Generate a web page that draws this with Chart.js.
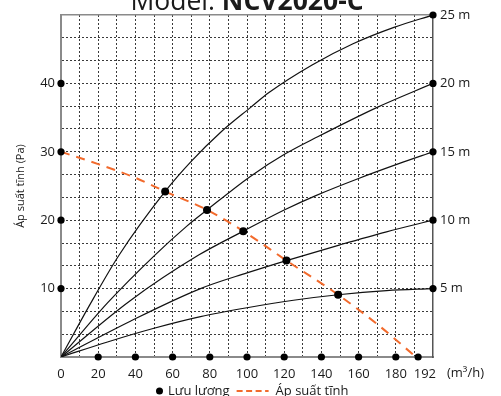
<!DOCTYPE html>
<html>
<head>
<meta charset="utf-8">
<script src="https://cdn.jsdelivr.net/npm/chart.js@4.4.1/dist/chart.umd.min.js"></script>
<style>
  html, body { margin: 0; padding: 0; background: #fff; }
  #wrap { width: 501px; height: 396px; }
</style>
</head>
<body>
<div id="wrap"><canvas id="chart" width="501" height="396"></canvas></div>
<script>
// ---- texts
const TITLE_LABEL = 'Model: ';
const TITLE_MODEL = 'NCV2020-C';
const Y_TITLE = 'Áp suất tĩnh (Pa)';
const X_UNIT = '(m³/h)';
const FLOW_LABEL = 'Lưu lượng';
const PRESSURE_LABEL = 'Áp suất tĩnh';

// ---- axes (x in m3/h, left y in Pa, right y in m)
const xGrid = [0, 10, 20, 30, 40, 50, 60, 70, 80, 90, 100, 110, 120, 130, 140, 150, 160, 170, 180, 190, 192, 200];
const xLabels = [0, 20, 40, 60, 80, 100, 120, 140, 160, 180, 192];
const yLabels = [10, 20, 30, 40];
const headLabels = [5, 10, 15, 20, 25];

// ---- system curves, one per head (Pa scale)
const curve25m = [[0, 0], [15, 7.4], [31, 14.8], [56, 24.2], [70, 28.6], [86, 32.9], [102, 36.5], [112, 38.7], [135, 42.7], [157, 45.8], [179, 48.2], [200, 50]];
const curve20m = [[0, 0], [25, 7.9], [50.5, 14.9], [67.5, 19.1], [78.5, 21.5], [101.8, 26.4], [120.6, 29.7], [138, 32.2], [170, 36.5], [200, 40]];
const curve15m = [[0, 0], [37, 8.2], [74, 14.9], [98, 18.4], [120, 21.5], [137, 23.6], [160, 26.1], [182, 28.3], [200, 30]];
const curve10m = [[0, 0], [37, 5.2], [75, 10.0], [100, 12.3], [121.2, 14.1], [150, 16.4], [175, 18.3], [200, 20]];
const curve5m = [[0, 0], [25, 2.2], [50, 4.2], [75, 5.9], [100, 7.2], [125, 8.3], [149, 9.1], [175, 9.7], [200, 10]];

// ---- static pressure line and operating points
const pressureCurve = [[0, 30], [20, 28.2], [40, 26.2], [56, 24.2], [78.5, 21.5], [98, 18.4], [121.2, 14.1], [149, 9.1], [170, 4.8], [190, 0.2]];
const flowPoints = [[56, 24.2], [78.5, 21.5], [98, 18.4], [121.2, 14.1], [149, 9.1]];

// ---- dots sitting on the axes
const bottomDots = [20, 40, 60, 80, 100, 120, 140, 160, 180, 192];
const leftDots = [10, 20, 30, 40];
const rightDots = [10, 20, 30, 40, 50];

const INK = '#1a1a1a';
const ORANGE = '#f26a2c';
const FONT = '"Open Sans", sans-serif';

Chart.defaults.font.family = FONT;
Chart.defaults.font.size = 13;
Chart.defaults.color = INK;

const pts = (arr) => arr.map(([x, y]) => ({ x, y }));
const curveStyle = {
  type: 'line', borderColor: '#111', borderWidth: 1.2, pointRadius: 0,
  cubicInterpolationMode: 'monotone', fill: false, order: 3,
};

const axisDots = [
  ...bottomDots.map(x => ({ x, y: 0 })),
  ...leftDots.map(y => ({ x: 0, y })),
  ...rightDots.map(y => ({ x: 200, y })),
];

const datasets = [
  { label: FLOW_LABEL, data: pts(flowPoints), showLine: false, pointRadius: 4,
    pointBackgroundColor: '#000', pointBorderWidth: 0, clip: false, order: 0 },
  { label: 'axis', data: axisDots, showLine: false, pointRadius: 3.6,
    pointBackgroundColor: '#000', pointBorderWidth: 0, clip: false, order: 1 },
  { label: PRESSURE_LABEL, data: pts(pressureCurve), borderColor: ORANGE, borderWidth: 2,
    borderDash: [9, 7], pointRadius: 0, cubicInterpolationMode: 'monotone', order: 2 },
  { ...curveStyle, label: '25 m', data: pts(curve25m) },
  { ...curveStyle, label: '20 m', data: pts(curve20m) },
  { ...curveStyle, label: '15 m', data: pts(curve15m) },
  { ...curveStyle, label: '10 m', data: pts(curve10m) },
  { ...curveStyle, label: '5 m', data: pts(curve5m) },
];

const isTen = (v) => Math.abs(v - Math.round(v / 10) * 10) < 1e-6;

/* title, unit label and legend drawn on top of the chart */
const decorations = {
  id: 'decorations',
  afterDraw(chart) {
    const { ctx, chartArea } = chart;
    ctx.save();
    ctx.fillStyle = INK;
    // title (partly above the canvas, as in the picture)
    ctx.textBaseline = 'alphabetic';
    ctx.font = '400 26.5px ' + FONT;
    const w1 = ctx.measureText(TITLE_LABEL).width;
    ctx.font = '700 26.5px ' + FONT;
    const w2 = ctx.measureText(TITLE_MODEL).width;
    let tx = 247 - (w1 + w2) / 2;
    ctx.font = '400 26.5px ' + FONT;
    ctx.fillText(TITLE_LABEL, tx, 10);
    ctx.font = '700 26.5px ' + FONT;
    ctx.fillText(TITLE_MODEL, tx + w1, 10);

    // unit after the x labels
    ctx.font = '13px ' + FONT;
    ctx.textBaseline = 'middle';
    ctx.fillText(X_UNIT, chartArea.right + 14, 373);

    // legend
    const ly = 391;
    let lx = 156;
    ctx.beginPath();
    ctx.arc(lx + 3.5, ly, 3.5, 0, Math.PI * 2);
    ctx.fillStyle = '#000';
    ctx.fill();
    ctx.fillStyle = INK;
    ctx.fillText(FLOW_LABEL, lx + 12, ly);
    lx += 12 + ctx.measureText(FLOW_LABEL).width + 7;
    ctx.strokeStyle = ORANGE;
    ctx.lineWidth = 2;
    ctx.setLineDash([6, 3.5]);
    ctx.beginPath();
    ctx.moveTo(lx, ly);
    ctx.lineTo(lx + 32, ly);
    ctx.stroke();
    ctx.setLineDash([]);
    ctx.fillText(PRESSURE_LABEL, lx + 39, ly);
    ctx.restore();
  },
};

new Chart(document.getElementById('chart'), {
  type: 'line',
  data: { datasets },
  options: {
    responsive: false,
    animation: false,
    events: [],
    layout: { padding: { top: 15, bottom: 0, left: 0, right: 0 } },
    plugins: { legend: { display: false }, tooltip: { enabled: false } },
    scales: {
      x: {
        type: 'linear', min: 0, max: 200,
        afterBuildTicks: (s) => { s.ticks = xGrid.map(v => ({ value: v })); },
        afterFit: (s) => { s.height = 39; },
        ticks: {
          autoSkip: false, maxRotation: 0, padding: 9, color: INK,
          // last label sits a little to the right of its dot, as drawn
          callback: (v) => v === 192 ? '    192' : (xLabels.includes(v) ? String(v) : ''),
        },
        grid: {
          drawTicks: false, lineWidth: 1,
          color: (c) => (c.tick && [0, 192, 200].includes(c.tick.value)) ? 'rgba(0,0,0,0)' : '#3a3a3a',
        },
        border: { color: '#8a8a8a', width: 2, dash: [2, 2] },
      },
      y: {
        type: 'linear', min: 0, max: 50,
        afterBuildTicks: (s) => {
          const t = [];
          for (let k = 0; k <= 15; k++) t.push({ value: (k * 10) / 3 });
          s.ticks = t;
        },
        afterFit: (s) => { s.width = 61; },
        ticks: {
          padding: 6, color: INK,
          callback: (v) => (isTen(v) && yLabels.includes(Math.round(v))) ? String(Math.round(v)) : '',
        },
        title: { display: true, text: Y_TITLE, font: { size: 11 }, color: INK, padding: { top: 14, bottom: 0 } },
        grid: {
          drawTicks: false,
          color: (c) => {
            if (!c.tick) return '#3a3a3a';
            if (c.tick.value === 0) return 'rgba(0,0,0,0)';
            if (c.tick.value === 50) return '#8a8a8a';
            return '#3a3a3a';
          },
          lineWidth: (c) => (c.tick && c.tick.value === 50) ? 1.5 : 1,
        },
        border: {
          color: '#8a8a8a', width: 2,
          dash: (c) => (c.tick && c.tick.value === 50) ? [] : [2, 2],
        },
      },
      y2: {
        type: 'linear', position: 'right', min: 0, max: 25,
        afterBuildTicks: (s) => { s.ticks = [0, ...headLabels].map(v => ({ value: v })); },
        afterFit: (s) => { s.width = 68; },
        ticks: { padding: 7, color: INK, callback: (v) => v === 0 ? '' : v + ' m' },
        grid: { display: false, drawTicks: false },
        border: { color: '#555', width: 1.5 },
      },
    },
  },
  plugins: [decorations],
});
</script>
</body>
</html>
